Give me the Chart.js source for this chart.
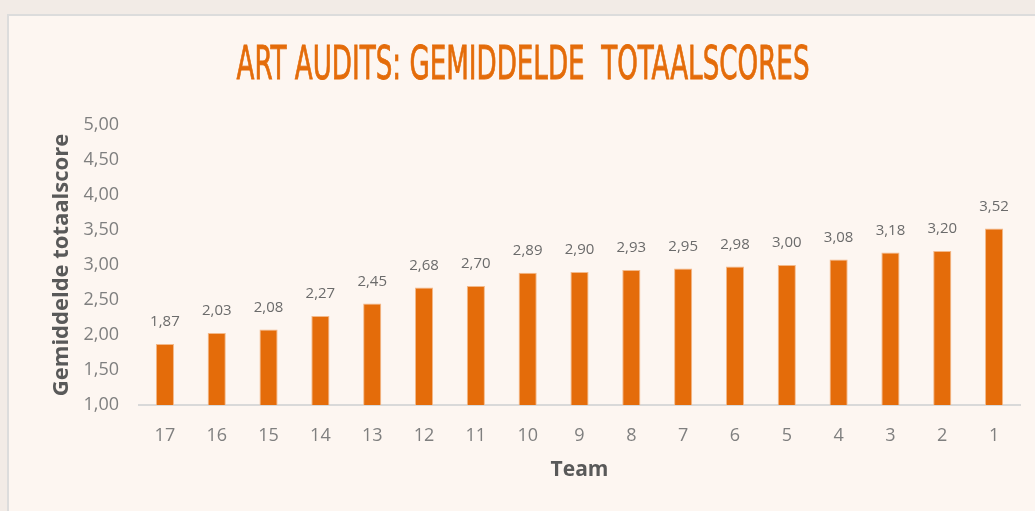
<!DOCTYPE html>
<html>
<head>
<meta charset="utf-8">
<script src="https://cdn.jsdelivr.net/npm/chart.js@4.4.1/dist/chart.umd.min.js"></script>
<style>
  html, body { margin: 0; padding: 0; background: #f2ebe6; width: 1035px; height: 511px; overflow: hidden; }
  #panel { position: absolute; left: 7px; top: 14px; width: 1026px; height: 495px; background: #fdf6f1;
           border-left: 2px solid #dcdcdc; border-top: 2px solid #dcdcdc; }
  #c { display: block; }
</style>
</head>
<body>
<div id="panel"><canvas id="c" width="1026" height="495"></canvas></div>
<script>
const chartTitle = "ART AUDITS: GEMIDDELDE  TOTAALSCORES";
const categories = ["17","16","15","14","13","12","11","10","9","8","7","6","5","4","3","2","1"];
const scores = [1.87, 2.03, 2.08, 2.27, 2.45, 2.68, 2.70, 2.89, 2.90, 2.93, 2.95, 2.98, 3.00, 3.08, 3.18, 3.20, 3.52];
const yMin = 1, yMax = 5, yStep = 0.5;
const yAxisTitle = "Gemiddelde totaalscore";
const xAxisTitle = "Team";

const fmt = v => Number(v).toFixed(2).replace('.', ',');

const titlePlugin = {
  id: 'condensedTitle',
  afterDraw(chart) {
    const ctx = chart.ctx;
    ctx.save();
    ctx.font = '46px "DejaVu Sans Condensed", "Liberation Sans Narrow", sans-serif';
    const w = ctx.measureText(chartTitle).width;
    const targetW = 573;
    const sx = targetW / w;
    const cx = 523 - 9;
    ctx.translate(cx - targetW / 2, 67 - 16);
    ctx.scale(sx, 1);
    ctx.fillStyle = '#e46c0a';
    ctx.strokeStyle = '#e46c0a';
    ctx.lineWidth = 0.8;
    ctx.textAlign = 'left';
    ctx.textBaseline = 'middle';
    ctx.fillText(chartTitle, 0, 0);
    ctx.strokeText(chartTitle, 0, 0);
    ctx.restore();
  }
};

const labelPlugin = {
  id: 'barLabels',
  afterDatasetsDraw(chart) {
    const ctx = chart.ctx;
    const meta = chart.getDatasetMeta(0);
    ctx.save();
    ctx.font = '15px "Open Sans", sans-serif';
    ctx.fillStyle = '#6b6b6b';
    ctx.textAlign = 'center';
    ctx.textBaseline = 'middle';
    meta.data.forEach((bar, i) => {
      ctx.fillText(fmt(scores[i]), bar.x, bar.y - 22);
    });
    ctx.restore();
  }
};

new Chart(document.getElementById('c'), {
  type: 'bar',
  data: {
    labels: categories,
    datasets: [{
      data: scores,
      backgroundColor: '#e46c0a',
      borderColor: '#f3b98a',
      borderWidth: 1,
      barPercentage: 0.7,
      categoryPercentage: 0.5
    }]
  },
  options: {
    responsive: false,
    animation: false,
    layout: { padding: { top: 109, right: 15, bottom: 28, left: 40 } },
    plugins: {
      legend: { display: false },
      tooltip: { enabled: false },
      title: { display: false }
    },
    scales: {
      x: {
        grid: { display: false, drawTicks: false },
        border: { display: true, color: '#d9d9d9', width: 2 },
        ticks: { color: '#7f7f7f', font: { family: '"Open Sans", sans-serif', size: 18 }, padding: 20 },
        title: { display: true, text: xAxisTitle, color: '#595959',
                 font: { family: '"Open Sans", sans-serif', size: 21, weight: 'bold' }, padding: { top: 2, bottom: 0 } },
        afterFit(scale) { scale.height = 78; }
      },
      y: {
        min: yMin, max: yMax,
        grid: { display: false, drawTicks: false },
        border: { display: false },
        ticks: { stepSize: yStep, color: '#7f7f7f', font: { family: '"Open Sans", sans-serif', size: 18 }, padding: 20,
                 callback: v => fmt(v) },
        title: { display: true, text: yAxisTitle, color: '#595959',
                 font: { family: '"Open Sans", sans-serif', size: 22, weight: 'bold' }, padding: { top: 0, bottom: 0 } },
        afterFit(scale) { scale.width = 90; }
      }
    }
  },
  plugins: [titlePlugin, labelPlugin]
});
</script>
</body>
</html>
